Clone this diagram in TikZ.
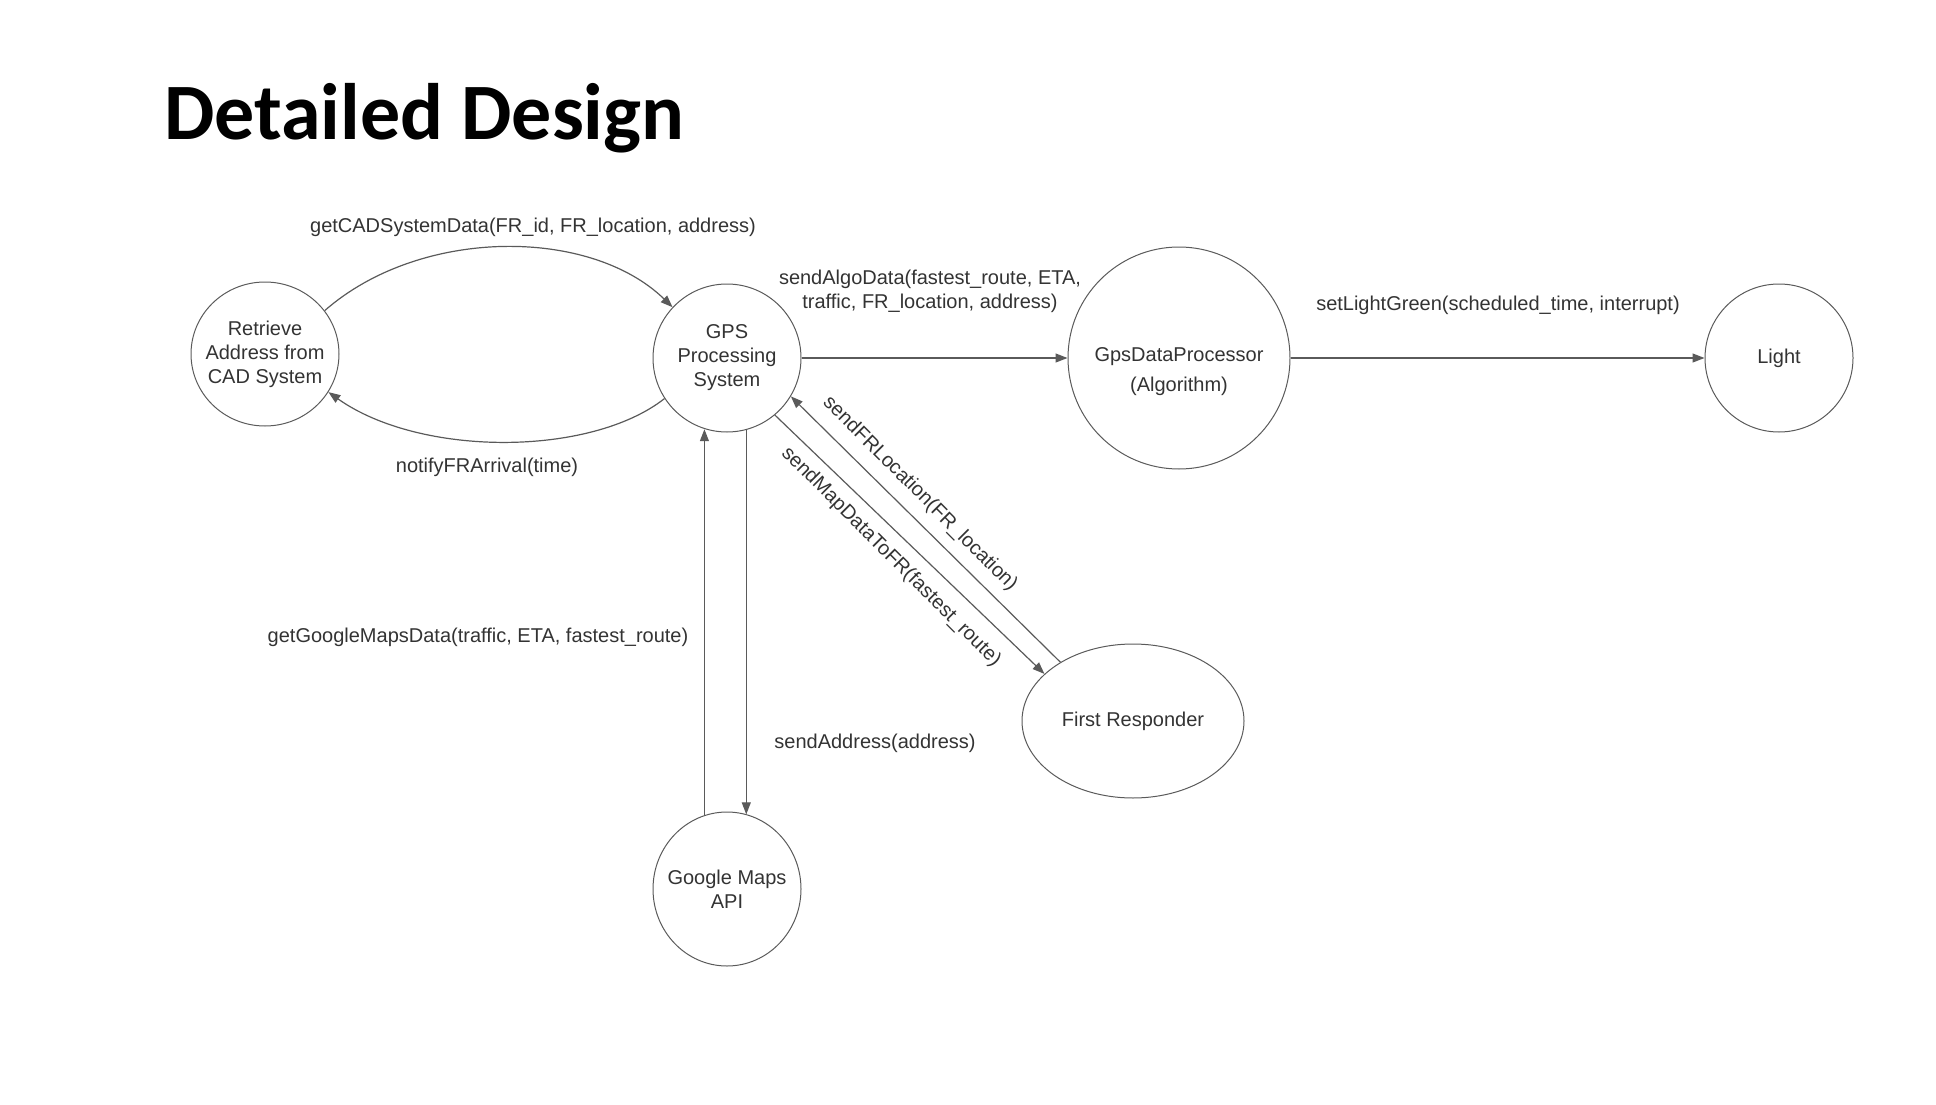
\documentclass[tikz,border=0pt]{standalone}
\usepackage{fontspec}
\setmainfont{Liberation Sans}
\newfontfamily\titlefont{Carlito}
\usetikzlibrary{arrows.meta,shapes.geometric,positioning}
\definecolor{linegray}{HTML}{5A5A5A}
\definecolor{textgray}{HTML}{333333}
\tikzset{proc/.style={ellipse,draw=linegray,line width=1pt,text=textgray,align=center,inner xsep=-8pt,inner ysep=0pt,font=\fontsize{20}{24}\selectfont}}
\tikzset{msg/.style={-{Triangle[length=12pt,width=9pt]},draw=linegray,line width=1.2pt}}
\tikzset{lbl/.style={text=textgray,align=center,inner sep=0pt,font=\fontsize{20}{24}\selectfont}}

\begin{document}
\begin{tikzpicture}[x=1pt,y=-1pt]
  \useasboundingbox (0,0) rectangle (1936,1105);
  \node[anchor=base west,inner sep=0pt,font=\titlefont\bfseries\fontsize{80}{96}\selectfont] (title) at (164,140) {Detailed Design};
  % states
  \node[proc,minimum width=148pt,minimum height=144pt] (ret) at (265,354) {Retrieve\\Address from\\CAD System};
  \node[proc,minimum width=148pt,minimum height=148pt] (gps) at (727,358) {GPS\\Processing\\System};
  \node[proc,minimum width=222pt,minimum height=222pt,text height=66pt,text depth=0pt] (gdp) at (1179,358) {GpsDataProcessor\\[6pt](Algorithm)};
  \node[proc,minimum width=148pt,minimum height=148pt] (light) at (1779,358) {Light};
  \node[proc,minimum width=222pt,minimum height=154pt] (fr) at (1133,721) {First Responder};
  \node[proc,minimum width=148pt,minimum height=154pt] (gmaps) at (727,889) {Google Maps\\API};
  % messages
  \draw[msg] (ret.36) .. controls (420,227) and (590,227) .. (gps.137);
  \draw[msg] (gps.213) .. controls (590,457) and (420,457) .. (ret.-31);
  \draw[msg] (gps.east) -- (gdp.west);
  \draw[msg] (gdp.east) -- (light.west);
  \draw[msg] (gmaps.107) -- (gmaps.107 |- gps.253);
  \draw[msg] (gps.-75) -- (gps.-75 |- gmaps.75);
  \draw[msg] (fr.141) -- (gps.-31);
  \draw[msg] (gps.-50) -- (fr.152);
  % labels
  \node[lbl] (lcad) at (533,227) {getCADSystemData(FR\_id, FR\_location, address)};
  \node[lbl] (lnotify) at (487,467) {notifyFRArrival(time)};
  \node[lbl] (lalgo) at (930,291) {sendAlgoData(fastest\_route, ETA,\\traffic, FR\_location, address)};
  \node[lbl] (llight) at (1498,305) {setLightGreen(scheduled\_time, interrupt)};
  \node[lbl] (lgoogle) at (478,637) {getGoogleMapsData(traffic, ETA, fastest\_route)};
  \node[lbl] (laddr) at (875,743) {sendAddress(address)};
  \node[lbl,rotate=-45] (lfrloc) at (920,494) {sendFRLocation(FR\_location)};
  \node[lbl,rotate=-45] (lmap) at (891,557) {sendMapDataToFR(fastest\_route)};
\end{tikzpicture}
\end{document}
